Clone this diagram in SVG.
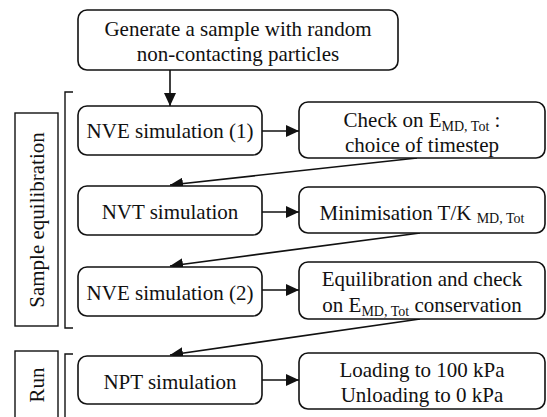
<svg xmlns="http://www.w3.org/2000/svg" width="547" height="417" viewBox="0 0 547 417">
<defs>
<marker id="ah" markerUnits="userSpaceOnUse" markerWidth="14" markerHeight="12" refX="13" refY="6" orient="auto">
<path d="M0,0 L13,6 L0,12 Z" fill="#111"/>
</marker>
</defs>
<style>
.box{fill:#fff;stroke:#111;stroke-width:1.6}
.lab{fill:#fff;stroke:#111;stroke-width:1.4}
.t{font-size:21px;fill:#111;text-anchor:middle}
.s{font-size:14px}
.c{stroke:#111;stroke-width:1.6;fill:none}
.br{stroke:#111;stroke-width:1.4;fill:none}
</style>
<rect width="547" height="417" fill="#fff"/>
<g font-family="Liberation Serif, DejaVu Serif, serif">
<g id="label-equilibration">
<rect class="lab" x="15" y="113" width="43" height="213"/>
<text class="t" transform="translate(44,220) rotate(-90)">Sample equilibration</text>
<path class="br" d="M73,92 H65 V328 H73"/>
</g>
<g id="label-run">
<rect class="lab" x="15" y="351" width="43" height="80"/>
<text class="t" transform="translate(44,385) rotate(-90)">Run</text>
<path class="br" d="M73,354 H65 V420"/>
</g>
<g id="connectors">
<line class="c" x1="170" y1="70" x2="170" y2="106" marker-end="url(#ah)"/>
<line class="c" x1="262" y1="131" x2="299" y2="131" marker-end="url(#ah)"/>
<line class="c" x1="417" y1="158" x2="170" y2="185" marker-end="url(#ah)"/>
<line class="c" x1="262" y1="212" x2="299" y2="212" marker-end="url(#ah)"/>
<line class="c" x1="420" y1="233" x2="170" y2="266" marker-end="url(#ah)"/>
<line class="c" x1="262" y1="290" x2="299" y2="290" marker-end="url(#ah)"/>
<line class="c" x1="420" y1="319" x2="170" y2="355" marker-end="url(#ah)"/>
<line class="c" x1="262" y1="380" x2="299" y2="380" marker-end="url(#ah)"/>
</g>
<g id="generate">
<rect class="box" x="78" y="10" width="320" height="60" rx="9"/>
<text class="t" x="238" y="36">Generate a sample with random</text>
<text class="t" x="238" y="61">non-contacting particles</text>
</g>
<g id="nve1">
<rect class="box" x="78" y="106" width="184" height="49" rx="9"/>
<text class="t" x="170" y="138">NVE simulation (1)</text>
</g>
<g id="check">
<rect class="box" x="299" y="102" width="246" height="56" rx="9"/>
<text class="t" x="422" y="127">Check on E<tspan class="s" dy="4">MD, Tot</tspan><tspan dy="-4"> :</tspan></text>
<text class="t" x="422" y="152">choice of timestep</text>
</g>
<g id="nvt">
<rect class="box" x="78" y="186" width="184" height="49" rx="9"/>
<text class="t" x="170" y="219">NVT simulation</text>
</g>
<g id="minimisation">
<rect class="box" x="299" y="187" width="246" height="46" rx="9"/>
<text class="t" x="422" y="220">Minimisation T/K <tspan class="s" dy="3">MD, Tot</tspan></text>
</g>
<g id="nve2">
<rect class="box" x="78" y="267" width="184" height="49" rx="9"/>
<text class="t" x="170" y="300">NVE simulation (2)</text>
</g>
<g id="equilibration">
<rect class="box" x="299" y="262" width="246" height="57" rx="9"/>
<text class="t" x="422" y="286">Equilibration and check</text>
<text class="t" x="422" y="312">on E<tspan class="s" dy="4">MD, Tot</tspan><tspan dy="-4"> conservation</tspan></text>
</g>
<g id="npt">
<rect class="box" x="78" y="356" width="184" height="48" rx="9"/>
<text class="t" x="170" y="389">NPT simulation</text>
</g>
<g id="loading">
<rect class="box" x="299" y="353" width="246" height="56" rx="9"/>
<text class="t" x="422" y="377">Loading to 100 kPa</text>
<text class="t" x="422" y="402">Unloading to 0 kPa</text>
</g>
</g>
</svg>
